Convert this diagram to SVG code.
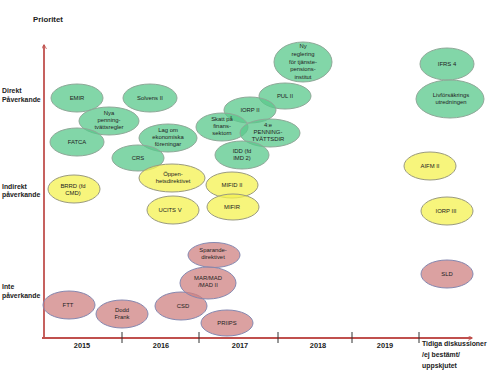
<svg xmlns="http://www.w3.org/2000/svg" width="500" height="373" viewBox="0 0 500 373">
<style>
.g{fill:#58c88b;fill-opacity:0.75;stroke:#8fa898;stroke-width:1}
.y{fill:#f4f150;fill-opacity:0.75;stroke:#9a9a80;stroke-width:1}
.p{fill:#cf8181;fill-opacity:0.75;stroke:#8588b0;stroke-width:1}
text{font-family:"Liberation Sans",Arial,sans-serif;fill:#222}
.t{font-size:5.9px;text-anchor:middle}
.b{font-size:6.9px;font-weight:bold}
.yr{font-size:7.4px;font-weight:bold;text-anchor:middle}
.ax{stroke:#c0504d;stroke-width:1.8;fill:none}
</style>
<defs>
<marker id="ah" viewBox="0 0 10 10" refX="8" refY="5" markerWidth="5" markerHeight="5" orient="auto" markerUnits="userSpaceOnUse">
<path d="M0,0 L9,5 L0,10" fill="none" stroke="#c0504d" stroke-width="1.6"/>
</marker>
</defs>
<rect width="500" height="373" fill="#fff"/>
<g id="connectors">
<line class="ax" x1="44" y1="339" x2="44" y2="45" marker-end="url(#ah)"/>
<line class="ax" x1="42" y1="338" x2="472" y2="338" marker-end="url(#ah)"/>
<g stroke="#333" stroke-width="1">
<line x1="122" y1="332" x2="122" y2="343"/>
<line x1="199" y1="332" x2="199" y2="343"/>
<line x1="278" y1="332" x2="278" y2="343"/>
<line x1="352" y1="332" x2="352" y2="343"/>
<line x1="419" y1="332" x2="419" y2="343"/>
</g>
</g>
<g id="labels">
<text class="b" x="33" y="22" style="font-size:7.8px">Prioritet</text>
<text class="b" x="2" y="93">Direkt</text>
<text class="b" x="2" y="102">Påverkande</text>
<text class="b" x="2" y="189">Indirekt</text>
<text class="b" x="2" y="197">påverkande</text>
<text class="b" x="2" y="289">Inte</text>
<text class="b" x="2" y="298">påverkande</text>
<text class="yr" x="82" y="348">2015</text>
<text class="yr" x="161" y="348">2016</text>
<text class="yr" x="240" y="348">2017</text>
<text class="yr" x="318" y="348">2018</text>
<text class="yr" x="385" y="348">2019</text>
<text class="b" x="422" y="346">Tidiga diskussioner</text>
<text class="b" x="422" y="357">/ej bestämt/</text>
<text class="b" x="422" y="368">uppskjutet</text>
</g>
<g id="n-emir"><ellipse class="g" cx="77" cy="98" rx="26" ry="14"/><text class="t" x="77" y="100">EMIR</text></g>
<g id="n-solvens"><ellipse class="g" cx="150" cy="98" rx="27" ry="14"/><text class="t" x="150" y="100">Solvens II</text></g>
<g id="n-nya"><ellipse class="g" cx="109" cy="121" rx="30" ry="14"/><text class="t" x="109" y="115">Nya</text><text class="t" x="109" y="122">penning-</text><text class="t" x="109" y="129">tvättsregler</text></g>
<g id="n-fatca"><ellipse class="g" cx="77" cy="142" rx="27" ry="14"/><text class="t" x="77" y="144">FATCA</text></g>
<g id="n-lag"><ellipse class="g" cx="168" cy="138" rx="29" ry="14"/><text class="t" x="168" y="132">Lag om</text><text class="t" x="168" y="139">ekonomiska</text><text class="t" x="168" y="146">föreningar</text></g>
<g id="n-crs"><ellipse class="g" cx="138" cy="158" rx="26" ry="13"/><text class="t" x="138" y="160">CRS</text></g>
<g id="n-ny"><ellipse class="g" cx="303" cy="62" rx="29" ry="20"/><text class="t" x="303" y="48">Ny</text><text class="t" x="303" y="56">reglering</text><text class="t" x="303" y="64">för tjänste-</text><text class="t" x="303" y="71">pensions-</text><text class="t" x="303" y="79">institut</text></g>
<g id="n-pul"><ellipse class="g" cx="285" cy="96" rx="26" ry="13"/><text class="t" x="285" y="98">PUL II</text></g>
<g id="n-iorp2"><ellipse class="g" cx="250" cy="110" rx="26" ry="13"/><text class="t" x="250" y="112">IORP II</text></g>
<g id="n-skatt"><ellipse class="g" cx="222" cy="127" rx="26" ry="14"/><text class="t" x="222" y="121">Skatt på</text><text class="t" x="222" y="128">finans-</text><text class="t" x="222" y="135">sektorn</text></g>
<g id="n-4e"><ellipse class="g" cx="270" cy="133" rx="30" ry="14"/><text class="t" x="268" y="127">4:e</text><text class="t" x="268" y="134">PENNING-</text><text class="t" x="268" y="141">TVÄTTSDIR</text></g>
<g id="n-idd"><ellipse class="g" cx="242" cy="155" rx="27" ry="14"/><text class="t" x="242" y="153">IDD (fd</text><text class="t" x="242" y="160">IMD 2)</text></g>
<g id="n-ifrs"><ellipse class="g" cx="447" cy="64" rx="27" ry="16"/><text class="t" x="447" y="66">IFRS 4</text></g>
<g id="n-liv"><ellipse class="g" cx="450" cy="99" rx="34" ry="19"/><text class="t" x="451" y="97">Livförsäkrings</text><text class="t" x="451" y="104">utredningen</text></g>
<g id="n-brrd"><ellipse class="y" cx="74" cy="189" rx="26" ry="14"/><text class="t" x="73" y="188">BRRD (fd</text><text class="t" x="73" y="195">CMD)</text></g>
<g id="n-oppen"><ellipse class="y" cx="172" cy="178" rx="33" ry="14"/><text class="t" x="173" y="176">Öppen-</text><text class="t" x="173" y="183">hetsdirektivet</text></g>
<g id="n-ucits"><ellipse class="y" cx="173" cy="210" rx="26" ry="14"/><text class="t" x="170" y="212">UCITS V</text></g>
<g id="n-mifid"><ellipse class="y" cx="232" cy="185" rx="26" ry="13"/><text class="t" x="232" y="187">MIFID II</text></g>
<g id="n-mifir"><ellipse class="y" cx="233" cy="207" rx="26" ry="13"/><text class="t" x="232" y="209">MIFIR</text></g>
<g id="n-aifm"><ellipse class="y" cx="430" cy="166" rx="26" ry="14"/><text class="t" x="430" y="168">AIFM II</text></g>
<g id="n-iorp3"><ellipse class="y" cx="447" cy="211" rx="26" ry="14"/><text class="t" x="446" y="213">IORP III</text></g>
<g id="n-sld"><ellipse class="p" cx="447" cy="274" rx="26" ry="14"/><text class="t" x="447" y="276">SLD</text></g>
<g id="n-ftt"><ellipse class="p" cx="69" cy="305" rx="26" ry="14"/><text class="t" x="68" y="307">FTT</text></g>
<g id="n-dodd"><ellipse class="p" cx="122" cy="314" rx="26" ry="14"/><text class="t" x="122" y="312">Dodd</text><text class="t" x="122" y="319">Frank</text></g>
<g id="n-csd"><ellipse class="p" cx="181" cy="306" rx="26" ry="14"/><text class="t" x="183" y="308">CSD</text></g>
<g id="n-spar"><ellipse class="p" cx="214" cy="255" rx="26" ry="12.5"/><text class="t" x="213" y="252">Sparande-</text><text class="t" x="213" y="259">direktivet</text></g>
<g id="n-mar"><ellipse class="p" cx="208" cy="283" rx="28" ry="16"/><text class="t" x="208" y="280">MAR/MAD</text><text class="t" x="208" y="287">/MAD II</text></g>
<g id="n-priips"><ellipse class="p" cx="227" cy="323" rx="26" ry="13"/><text class="t" x="227" y="325">PRIIPS</text></g>
</svg>
